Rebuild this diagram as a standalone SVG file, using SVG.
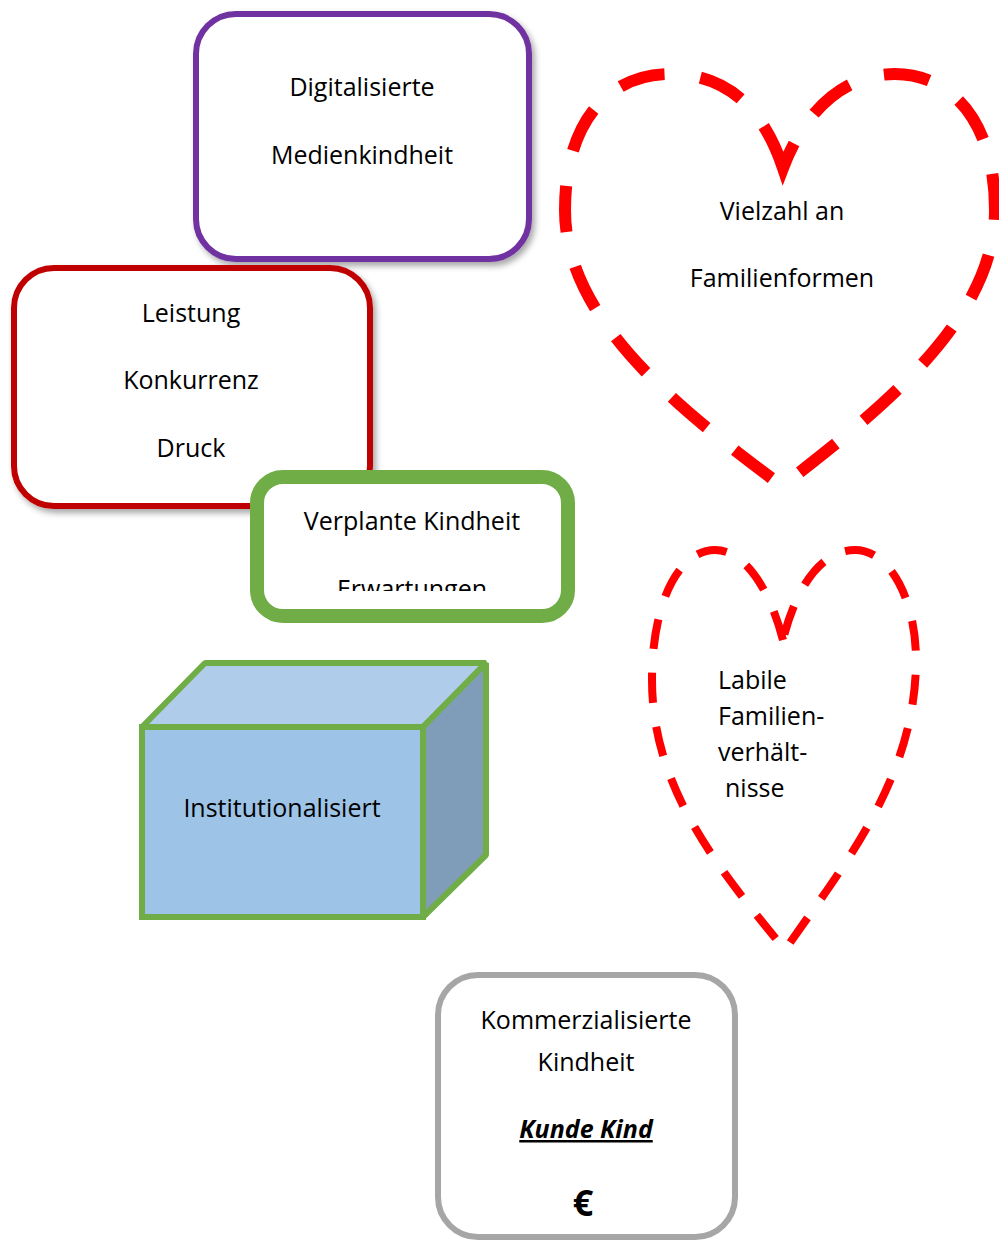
<svg xmlns="http://www.w3.org/2000/svg" width="999" height="1240" viewBox="0 0 999 1240">
<defs>
<style>
text{font-family:"Open Sans","Noto Sans","Liberation Sans",sans-serif;font-size:25px;fill:#000}
.c{text-anchor:middle}
.heart{fill:none;stroke:#FF0000}
.euro{font-size:36px;font-weight:bold}
</style>
<filter id="sh" x="-10%" y="-10%" width="130%" height="130%">
<feDropShadow dx="3" dy="4" stdDeviation="3" flood-color="#000" flood-opacity="0.35"/>
</filter>
<clipPath id="gclip"><rect x="257" y="477" width="311" height="114"/></clipPath>
</defs>
<rect width="999" height="1240" fill="#fff"/>
<g id="connectors"/>
<g id="digital">
<rect x="196" y="14" width="333" height="245" rx="40" fill="#fff" stroke="#7030A0" stroke-width="6" filter="url(#sh)"/>
<text class="c" x="362" y="96">Digitalisierte</text>
<text class="c" x="362" y="164">Medienkindheit</text>
</g>
<g id="leistung">
<rect x="14" y="268" width="356" height="238" rx="40" fill="#fff" stroke="#C00000" stroke-width="6" filter="url(#sh)"/>
<text class="c" x="191" y="322">Leistung</text>
<text class="c" x="191" y="389">Konkurrenz</text>
<text class="c" x="191" y="457">Druck</text>
</g>
<g id="verplant">
<rect x="257" y="477" width="311" height="139" rx="26" fill="#fff" stroke="#70AD47" stroke-width="14"/>
<text class="c" x="412" y="530">Verplante Kindheit</text>
<text class="c" x="412" y="598" clip-path="url(#gclip)">Erwartungen</text>
</g>
<g id="familienformen">
<path class="heart" stroke-width="12" stroke-dasharray="46 36" d="M783,168 C760,100 720,74 670,74 C610,74 565,120 565,210 C565,320 680,410 782,486 C880,410 995,320 995,210 C995,120 950,74 895,74 C845,74 805,110 783,168 Z"/>
<text class="c" x="782" y="220">Vielzahl an</text>
<text class="c" x="782" y="287">Familienformen</text>
</g>
<g id="institution">
<polygon points="142,727 205,663 486,663 423,727" fill="#AFCDEA" stroke="#70AD47" stroke-width="6" stroke-linejoin="bevel"/>
<polygon points="423,727 486,663 486,855 423,917" fill="#7F9DB9" stroke="#70AD47" stroke-width="6" stroke-linejoin="bevel"/>
<rect x="142" y="727" width="281" height="190" fill="#9DC3E6" stroke="#70AD47" stroke-width="6"/>
<text class="c" x="282" y="817">Institutionalisiert</text>
</g>
<g id="labile">
<path class="heart" stroke-width="8" stroke-dasharray="30 24" d="M783,640 C770,590 745,550 715,550 C680,550 652,600 652,680 C652,790 720,870 785,950 C840,870 916,780 916,660 C916,600 890,550 855,550 C820,550 795,590 783,640 Z"/>
<text x="718" y="689">Labile</text>
<text x="718" y="725">Familien-</text>
<text x="718" y="761">verhält-</text>
<text x="725" y="797">nisse</text>
</g>
<g id="kommerz">
<rect x="438" y="975" width="297" height="262" rx="40" fill="#fff" stroke="#A6A6A6" stroke-width="6"/>
<text class="c" x="586" y="1029">Kommerzialisierte</text>
<text class="c" x="586" y="1071">Kindheit</text>
<text class="c" x="586" y="1138" font-weight="bold" font-style="italic" text-decoration="underline">Kunde Kind</text>
<text class="c euro" x="583" y="1216">€</text>
</g>
</svg>
